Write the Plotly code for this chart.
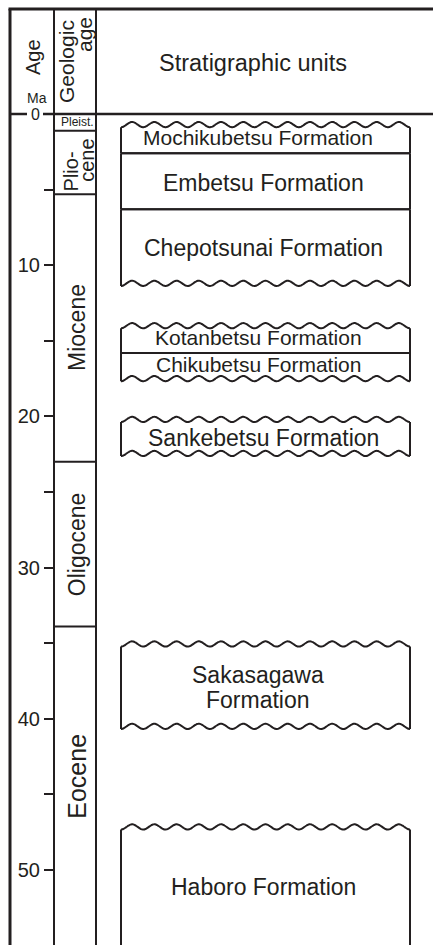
import numpy as np
import plotly.graph_objects as go

W, H = 433, 945
PX_PER_MA = 15.12          # vertical scale of the column
Y0_PX = 114                # pixel row of 0 Ma
MA_TOP = -Y0_PX / PX_PER_MA
MA_BOT = (H - Y0_PX) / PX_PER_MA

# ---------------- data ----------------
tick_values = [0, 5, 10, 15, 20, 25, 30, 35, 40, 45, 50]
tick_labels = ["", "", "10", "", "20", "", "30", "", "40", "", "50"]

epoch_names = ["Pleist.", "Plio-|cene", "Miocene", "Oligocene", "Eocene"]
epoch_top = [0.0, 1.1, 5.3, 23.0, 33.9]
epoch_base = [1.1, 5.3, 23.0, 33.9, 56.0]

formation_names = ["Mochikubetsu Formation", "Embetsu Formation", "Chepotsunai Formation",
                   "Kotanbetsu Formation", "Chikubetsu Formation", "Sankebetsu Formation",
                   "Sakasagawa|Formation", "Haboro Formation"]
formation_top = [0.7, 2.6, 6.3, 14.0, 15.8, 20.2, 35.05, 47.15]
formation_base = [2.6, 6.3, 11.2, 15.8, 17.5, 22.45, 40.5, 56.0]
top_unconformity = [True, False, False, True, False, True, True, True]
base_unconformity = [False, False, True, False, True, True, True, False]

# ---------------- style ----------------
INK = "#231f20"
FONT = "Liberation Sans, Arial, Helvetica, sans-serif"
COL_L, COL_R = 54, 96          # geologic-age column
BOX_L, BOX_R = 121, 410        # formation boxes
AXIS_X = 10
N_WAVES = 13
AMP = 2.6 / PX_PER_MA


def px2ma(py):
    return (py - Y0_PX) / PX_PER_MA


def wave(y0):
    xs = np.linspace(BOX_L, BOX_R, 400)
    ys = y0 + AMP * np.cos(2 * np.pi * N_WAVES * (xs - BOX_L) / (BOX_R - BOX_L))
    return list(xs), list(ys)


fig = go.Figure()

# formation outlines
lx, ly = [], []
for top, base, tw, bw in zip(formation_top, formation_base, top_unconformity, base_unconformity):
    y_top_end = top + AMP if tw else top
    y_base = min(base, MA_BOT + 1)
    y_base_end = base + AMP if bw else y_base
    for xside in (BOX_L, BOX_R):
        lx += [xside, xside, None]
        ly += [y_top_end, y_base_end, None]
    if tw:
        xs, ys = wave(top)
    else:
        xs, ys = [BOX_L, BOX_R], [top, top]
    lx += xs + [None]
    ly += ys + [None]
    if base < MA_BOT:
        if bw:
            xs, ys = wave(base)
        else:
            xs, ys = [BOX_L, BOX_R], [base, base]
        lx += xs + [None]
        ly += ys + [None]

fig.add_trace(go.Scatter(x=lx, y=ly, mode="lines",
                         line=dict(color=INK, width=2, shape="spline", smoothing=0.6),
                         hoverinfo="skip", showlegend=False))

# epoch boundaries inside the geologic-age column
ex, ey = [], []
for base in epoch_base:
    if base < MA_BOT:
        ex += [COL_L, COL_R, None]
        ey += [base, base, None]
fig.add_trace(go.Scatter(x=ex, y=ey, mode="lines", line=dict(color=INK, width=2),
                         hoverinfo="skip", showlegend=False))

shapes = []
y_frame_top = px2ma(9)
shapes.append(dict(type="line", xref="x", yref="y", x0=AXIS_X, x1=AXIS_X,
                   y0=y_frame_top, y1=MA_BOT + 1, line=dict(color=INK, width=3)))
shapes.append(dict(type="line", xref="x", yref="y", x0=AXIS_X - 1.5, x1=W,
                   y0=y_frame_top, y1=y_frame_top, line=dict(color=INK, width=3)))
shapes.append(dict(type="line", xref="x", yref="y", x0=AXIS_X, x1=27, y0=0, y1=0,
                   line=dict(color=INK, width=2.5)))
shapes.append(dict(type="line", xref="x", yref="y", x0=43, x1=W, y0=0, y1=0,
                   line=dict(color=INK, width=2.5)))
for xc in (COL_L, COL_R):
    shapes.append(dict(type="line", xref="x", yref="y", x0=xc, x1=xc,
                       y0=y_frame_top, y1=MA_BOT + 1, line=dict(color=INK, width=2)))

ann = []


def txt(x, y, s, size, angle=0):
    ann.append(dict(x=x, y=y, xref="x", yref="y", text=s, showarrow=False,
                    textangle=angle, font=dict(family=FONT, size=size, color=INK),
                    xanchor="center", yanchor="middle"))


# header
txt(33, px2ma(57), "Age", 20, -90)
txt(37, px2ma(98), "Ma", 14)
txt(35, 0, "0", 16)
txt(66, px2ma(62), "Geologic", 21, -90)
txt(84, px2ma(35), "age", 21, -90)
txt(253, px2ma(63), "Stratigraphic units", 23.5)

# epoch labels
for name, top, base in zip(epoch_names, epoch_top, epoch_base):
    mid = (top + min(base, MA_BOT)) / 2
    if name == "Pleist.":
        txt(77, mid, name, 12)
    elif "|" in name:
        a, b = name.split("|")
        txt(71, mid + 0.4, a + "&nbsp;", 20, -90)
        txt(87, mid - 0.1, b, 20, -90)
    elif name == "Eocene":
        txt(77, mid - 0.6, name, 25, -90)
    else:
        txt(77, mid, name, 23, -90)

# formation labels
for name, top, base in zip(formation_names, formation_top, formation_base):
    thin = (base - top) < 2.0
    mid = (top + min(base, MA_BOT)) / 2 + (-0.1 if thin else 0.1)
    size = 21 if thin else 23
    if "|" in name:
        a, b = name.split("|")
        txt(258, mid - 0.8, a, size)
        txt(258, mid + 0.85, b, size)
    else:
        txt(258 if thin else 263, mid, name, size)

fig.update_layout(
    width=W, height=H, margin=dict(l=0, r=0, t=0, b=0),
    paper_bgcolor="white", plot_bgcolor="white",
    shapes=shapes, annotations=ann, showlegend=False,
    xaxis=dict(range=[0, W], visible=False, fixedrange=True),
    yaxis=dict(range=[MA_BOT, MA_TOP], anchor="free", position=COL_L / W,
               showline=False, showgrid=False, zeroline=False,
               tickmode="array", tickvals=tick_values, ticktext=tick_labels,
               ticks="outside", ticklen=10, tickwidth=2, tickcolor=INK,
               tickfont=dict(family=FONT, size=20, color=INK), fixedrange=True),
)

fig.write_html("out.html", config={"displayModeBar": False},
               post_script="document.body.style.margin='0';document.body.style.overflow='hidden';")
